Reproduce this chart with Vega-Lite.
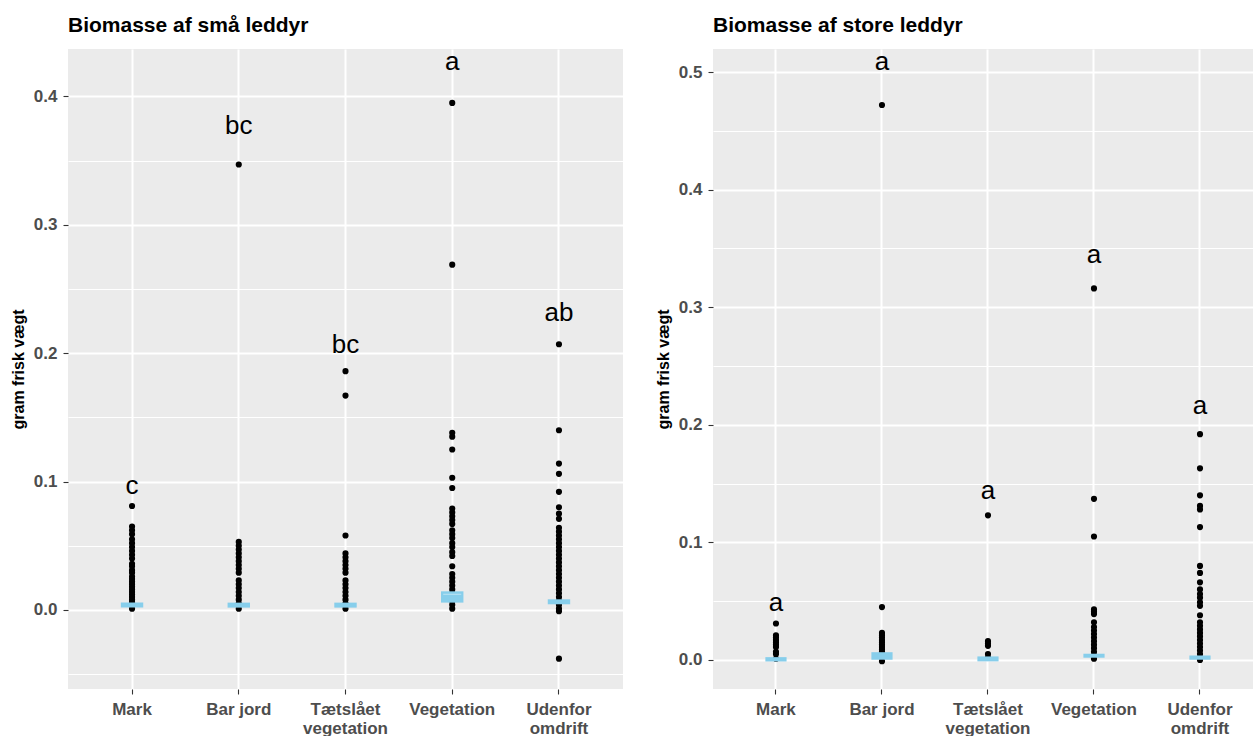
{
  "$schema": "https://vega.github.io/schema/vega-lite/v6.json",
  "background": "white",
  "padding": {"left": 10, "top": 14, "right": 0, "bottom": 0},
  "autosize": {"type": "pad"},
  "spacing": 32,
  "config": {
    "font": "Liberation Sans",
    "view": {"fill": "#EBEBEB", "stroke": null},
    "axis": {
      "labelFont": "Liberation Sans", "labelFontSize": 17, "labelFontWeight": "bold", "labelColor": "#4D4D4D",
      "tickColor": "#333333", "tickSize": 5, "tickWidth": 1.1, "domain": false,
      "gridColor": "white", "titleFont": "Liberation Sans", "titleFontWeight": "bold", "titleColor": "black"
    },
    "title": {"anchor": "start", "frame": "group", "fontSize": 21, "fontWeight": "bold", "color": "black", "font": "Liberation Sans", "offset": 13}
  },
  "datasets": {
    "pts": [
      {"panel": "s", "grp": "Mark", "v": 0.081}, {"panel": "s", "grp": "Mark", "v": 0.065}, {"panel": "s", "grp": "Mark", "v": 0.062}, {"panel": "s", "grp": "Mark", "v": 0.059}, {"panel": "s", "grp": "Mark", "v": 0.055}, {"panel": "s", "grp": "Mark", "v": 0.052}, {"panel": "s", "grp": "Mark", "v": 0.049}, {"panel": "s", "grp": "Mark", "v": 0.046}, {"panel": "s", "grp": "Mark", "v": 0.043}, {"panel": "s", "grp": "Mark", "v": 0.040}, {"panel": "s", "grp": "Mark", "v": 0.036}, {"panel": "s", "grp": "Mark", "v": 0.034}, {"panel": "s", "grp": "Mark", "v": 0.031}, {"panel": "s", "grp": "Mark", "v": 0.029}, {"panel": "s", "grp": "Mark", "v": 0.026}, {"panel": "s", "grp": "Mark", "v": 0.024}, {"panel": "s", "grp": "Mark", "v": 0.022}, {"panel": "s", "grp": "Mark", "v": 0.020}, {"panel": "s", "grp": "Mark", "v": 0.018}, {"panel": "s", "grp": "Mark", "v": 0.016}, {"panel": "s", "grp": "Mark", "v": 0.014}, {"panel": "s", "grp": "Mark", "v": 0.012}, {"panel": "s", "grp": "Mark", "v": 0.010}, {"panel": "s", "grp": "Mark", "v": 0.008}, {"panel": "s", "grp": "Mark", "v": 0.006}, {"panel": "s", "grp": "Mark", "v": 0.004}, {"panel": "s", "grp": "Mark", "v": 0.001},
      {"panel": "s", "grp": "Bar jord", "v": 0.347}, {"panel": "s", "grp": "Bar jord", "v": 0.053}, {"panel": "s", "grp": "Bar jord", "v": 0.050}, {"panel": "s", "grp": "Bar jord", "v": 0.047}, {"panel": "s", "grp": "Bar jord", "v": 0.044}, {"panel": "s", "grp": "Bar jord", "v": 0.041}, {"panel": "s", "grp": "Bar jord", "v": 0.038}, {"panel": "s", "grp": "Bar jord", "v": 0.035}, {"panel": "s", "grp": "Bar jord", "v": 0.032}, {"panel": "s", "grp": "Bar jord", "v": 0.029}, {"panel": "s", "grp": "Bar jord", "v": 0.023}, {"panel": "s", "grp": "Bar jord", "v": 0.020}, {"panel": "s", "grp": "Bar jord", "v": 0.017}, {"panel": "s", "grp": "Bar jord", "v": 0.014}, {"panel": "s", "grp": "Bar jord", "v": 0.011}, {"panel": "s", "grp": "Bar jord", "v": 0.008}, {"panel": "s", "grp": "Bar jord", "v": 0.005}, {"panel": "s", "grp": "Bar jord", "v": 0.001},
      {"panel": "s", "grp": "Tætslået vegetation", "v": 0.186}, {"panel": "s", "grp": "Tætslået vegetation", "v": 0.167}, {"panel": "s", "grp": "Tætslået vegetation", "v": 0.058}, {"panel": "s", "grp": "Tætslået vegetation", "v": 0.044}, {"panel": "s", "grp": "Tætslået vegetation", "v": 0.041}, {"panel": "s", "grp": "Tætslået vegetation", "v": 0.038}, {"panel": "s", "grp": "Tætslået vegetation", "v": 0.035}, {"panel": "s", "grp": "Tætslået vegetation", "v": 0.032}, {"panel": "s", "grp": "Tætslået vegetation", "v": 0.029}, {"panel": "s", "grp": "Tætslået vegetation", "v": 0.023}, {"panel": "s", "grp": "Tætslået vegetation", "v": 0.020}, {"panel": "s", "grp": "Tætslået vegetation", "v": 0.017}, {"panel": "s", "grp": "Tætslået vegetation", "v": 0.014}, {"panel": "s", "grp": "Tætslået vegetation", "v": 0.011}, {"panel": "s", "grp": "Tætslået vegetation", "v": 0.008}, {"panel": "s", "grp": "Tætslået vegetation", "v": 0.005}, {"panel": "s", "grp": "Tætslået vegetation", "v": 0.001},
      {"panel": "s", "grp": "Vegetation", "v": 0.395}, {"panel": "s", "grp": "Vegetation", "v": 0.269}, {"panel": "s", "grp": "Vegetation", "v": 0.138}, {"panel": "s", "grp": "Vegetation", "v": 0.135}, {"panel": "s", "grp": "Vegetation", "v": 0.125}, {"panel": "s", "grp": "Vegetation", "v": 0.103}, {"panel": "s", "grp": "Vegetation", "v": 0.095}, {"panel": "s", "grp": "Vegetation", "v": 0.079}, {"panel": "s", "grp": "Vegetation", "v": 0.076}, {"panel": "s", "grp": "Vegetation", "v": 0.073}, {"panel": "s", "grp": "Vegetation", "v": 0.070}, {"panel": "s", "grp": "Vegetation", "v": 0.067}, {"panel": "s", "grp": "Vegetation", "v": 0.062}, {"panel": "s", "grp": "Vegetation", "v": 0.059}, {"panel": "s", "grp": "Vegetation", "v": 0.056}, {"panel": "s", "grp": "Vegetation", "v": 0.052}, {"panel": "s", "grp": "Vegetation", "v": 0.049}, {"panel": "s", "grp": "Vegetation", "v": 0.045}, {"panel": "s", "grp": "Vegetation", "v": 0.042}, {"panel": "s", "grp": "Vegetation", "v": 0.034}, {"panel": "s", "grp": "Vegetation", "v": 0.028}, {"panel": "s", "grp": "Vegetation", "v": 0.025}, {"panel": "s", "grp": "Vegetation", "v": 0.022}, {"panel": "s", "grp": "Vegetation", "v": 0.019}, {"panel": "s", "grp": "Vegetation", "v": 0.016}, {"panel": "s", "grp": "Vegetation", "v": 0.013}, {"panel": "s", "grp": "Vegetation", "v": 0.010}, {"panel": "s", "grp": "Vegetation", "v": 0.007}, {"panel": "s", "grp": "Vegetation", "v": 0.004}, {"panel": "s", "grp": "Vegetation", "v": 0.001},
      {"panel": "s", "grp": "Udenfor omdrift", "v": 0.207}, {"panel": "s", "grp": "Udenfor omdrift", "v": 0.140}, {"panel": "s", "grp": "Udenfor omdrift", "v": 0.114}, {"panel": "s", "grp": "Udenfor omdrift", "v": 0.106}, {"panel": "s", "grp": "Udenfor omdrift", "v": 0.092}, {"panel": "s", "grp": "Udenfor omdrift", "v": 0.080}, {"panel": "s", "grp": "Udenfor omdrift", "v": 0.075}, {"panel": "s", "grp": "Udenfor omdrift", "v": 0.071}, {"panel": "s", "grp": "Udenfor omdrift", "v": 0.064}, {"panel": "s", "grp": "Udenfor omdrift", "v": 0.061}, {"panel": "s", "grp": "Udenfor omdrift", "v": 0.058}, {"panel": "s", "grp": "Udenfor omdrift", "v": 0.055}, {"panel": "s", "grp": "Udenfor omdrift", "v": 0.052}, {"panel": "s", "grp": "Udenfor omdrift", "v": 0.049}, {"panel": "s", "grp": "Udenfor omdrift", "v": 0.046}, {"panel": "s", "grp": "Udenfor omdrift", "v": 0.043}, {"panel": "s", "grp": "Udenfor omdrift", "v": 0.040}, {"panel": "s", "grp": "Udenfor omdrift", "v": 0.037}, {"panel": "s", "grp": "Udenfor omdrift", "v": 0.034}, {"panel": "s", "grp": "Udenfor omdrift", "v": 0.031}, {"panel": "s", "grp": "Udenfor omdrift", "v": 0.028}, {"panel": "s", "grp": "Udenfor omdrift", "v": 0.025}, {"panel": "s", "grp": "Udenfor omdrift", "v": 0.022}, {"panel": "s", "grp": "Udenfor omdrift", "v": 0.019}, {"panel": "s", "grp": "Udenfor omdrift", "v": 0.016}, {"panel": "s", "grp": "Udenfor omdrift", "v": 0.013}, {"panel": "s", "grp": "Udenfor omdrift", "v": 0.010}, {"panel": "s", "grp": "Udenfor omdrift", "v": 0.007}, {"panel": "s", "grp": "Udenfor omdrift", "v": 0.004}, {"panel": "s", "grp": "Udenfor omdrift", "v": 0.001}, {"panel": "s", "grp": "Udenfor omdrift", "v": -0.001}, {"panel": "s", "grp": "Udenfor omdrift", "v": -0.038},
      {"panel": "l", "grp": "Mark", "v": 0.031}, {"panel": "l", "grp": "Mark", "v": 0.021}, {"panel": "l", "grp": "Mark", "v": 0.019}, {"panel": "l", "grp": "Mark", "v": 0.017}, {"panel": "l", "grp": "Mark", "v": 0.015}, {"panel": "l", "grp": "Mark", "v": 0.013}, {"panel": "l", "grp": "Mark", "v": 0.011}, {"panel": "l", "grp": "Mark", "v": 0.007}, {"panel": "l", "grp": "Mark", "v": 0.005}, {"panel": "l", "grp": "Mark", "v": 0.001},
      {"panel": "l", "grp": "Bar jord", "v": 0.472}, {"panel": "l", "grp": "Bar jord", "v": 0.045}, {"panel": "l", "grp": "Bar jord", "v": 0.023}, {"panel": "l", "grp": "Bar jord", "v": 0.021}, {"panel": "l", "grp": "Bar jord", "v": 0.019}, {"panel": "l", "grp": "Bar jord", "v": 0.017}, {"panel": "l", "grp": "Bar jord", "v": 0.015}, {"panel": "l", "grp": "Bar jord", "v": 0.013}, {"panel": "l", "grp": "Bar jord", "v": 0.011}, {"panel": "l", "grp": "Bar jord", "v": 0.009}, {"panel": "l", "grp": "Bar jord", "v": 0.007}, {"panel": "l", "grp": "Bar jord", "v": 0.005}, {"panel": "l", "grp": "Bar jord", "v": 0.003}, {"panel": "l", "grp": "Bar jord", "v": -0.001},
      {"panel": "l", "grp": "Tætslået vegetation", "v": 0.123}, {"panel": "l", "grp": "Tætslået vegetation", "v": 0.016}, {"panel": "l", "grp": "Tætslået vegetation", "v": 0.014}, {"panel": "l", "grp": "Tætslået vegetation", "v": 0.012}, {"panel": "l", "grp": "Tætslået vegetation", "v": 0.005}, {"panel": "l", "grp": "Tætslået vegetation", "v": 0.002},
      {"panel": "l", "grp": "Vegetation", "v": 0.316}, {"panel": "l", "grp": "Vegetation", "v": 0.137}, {"panel": "l", "grp": "Vegetation", "v": 0.105}, {"panel": "l", "grp": "Vegetation", "v": 0.043}, {"panel": "l", "grp": "Vegetation", "v": 0.041}, {"panel": "l", "grp": "Vegetation", "v": 0.039}, {"panel": "l", "grp": "Vegetation", "v": 0.032}, {"panel": "l", "grp": "Vegetation", "v": 0.028}, {"panel": "l", "grp": "Vegetation", "v": 0.025}, {"panel": "l", "grp": "Vegetation", "v": 0.022}, {"panel": "l", "grp": "Vegetation", "v": 0.019}, {"panel": "l", "grp": "Vegetation", "v": 0.016}, {"panel": "l", "grp": "Vegetation", "v": 0.013}, {"panel": "l", "grp": "Vegetation", "v": 0.010}, {"panel": "l", "grp": "Vegetation", "v": 0.007}, {"panel": "l", "grp": "Vegetation", "v": 0.004}, {"panel": "l", "grp": "Vegetation", "v": 0.001},
      {"panel": "l", "grp": "Udenfor omdrift", "v": 0.192}, {"panel": "l", "grp": "Udenfor omdrift", "v": 0.163}, {"panel": "l", "grp": "Udenfor omdrift", "v": 0.140}, {"panel": "l", "grp": "Udenfor omdrift", "v": 0.131}, {"panel": "l", "grp": "Udenfor omdrift", "v": 0.128}, {"panel": "l", "grp": "Udenfor omdrift", "v": 0.113}, {"panel": "l", "grp": "Udenfor omdrift", "v": 0.080}, {"panel": "l", "grp": "Udenfor omdrift", "v": 0.074}, {"panel": "l", "grp": "Udenfor omdrift", "v": 0.066}, {"panel": "l", "grp": "Udenfor omdrift", "v": 0.060}, {"panel": "l", "grp": "Udenfor omdrift", "v": 0.056}, {"panel": "l", "grp": "Udenfor omdrift", "v": 0.053}, {"panel": "l", "grp": "Udenfor omdrift", "v": 0.049}, {"panel": "l", "grp": "Udenfor omdrift", "v": 0.046}, {"panel": "l", "grp": "Udenfor omdrift", "v": 0.038}, {"panel": "l", "grp": "Udenfor omdrift", "v": 0.032}, {"panel": "l", "grp": "Udenfor omdrift", "v": 0.029}, {"panel": "l", "grp": "Udenfor omdrift", "v": 0.026}, {"panel": "l", "grp": "Udenfor omdrift", "v": 0.023}, {"panel": "l", "grp": "Udenfor omdrift", "v": 0.020}, {"panel": "l", "grp": "Udenfor omdrift", "v": 0.017}, {"panel": "l", "grp": "Udenfor omdrift", "v": 0.014}, {"panel": "l", "grp": "Udenfor omdrift", "v": 0.011}, {"panel": "l", "grp": "Udenfor omdrift", "v": 0.008}, {"panel": "l", "grp": "Udenfor omdrift", "v": 0.005}, {"panel": "l", "grp": "Udenfor omdrift", "v": 0.002}, {"panel": "l", "grp": "Udenfor omdrift", "v": 0.000}
    ],
    "bars": [
      {"panel": "s", "grp": "Mark", "lo": 0.0018, "hi": 0.0057},
      {"panel": "s", "grp": "Bar jord", "lo": 0.0018, "hi": 0.0057},
      {"panel": "s", "grp": "Tætslået vegetation", "lo": 0.0018, "hi": 0.0057},
      {"panel": "s", "grp": "Vegetation", "lo": 0.0057, "hi": 0.0145, "mid": 0.0122},
      {"panel": "s", "grp": "Udenfor omdrift", "lo": 0.0044, "hi": 0.0083},
      {"panel": "l", "grp": "Mark", "lo": -0.0013, "hi": 0.0024},
      {"panel": "l", "grp": "Bar jord", "lo": 0.0002, "hi": 0.0066},
      {"panel": "l", "grp": "Tætslået vegetation", "lo": -0.0012, "hi": 0.003},
      {"panel": "l", "grp": "Vegetation", "lo": 0.0019, "hi": 0.0053},
      {"panel": "l", "grp": "Udenfor omdrift", "lo": 0.0002, "hi": 0.0038}
    ],
    "letters": [
      {"panel": "s", "grp": "Mark", "y": 0.0904, "lab": "c"},
      {"panel": "s", "grp": "Bar jord", "y": 0.371, "lab": "bc"},
      {"panel": "s", "grp": "Tætslået vegetation", "y": 0.2005, "lab": "bc"},
      {"panel": "s", "grp": "Vegetation", "y": 0.421, "lab": "a"},
      {"panel": "s", "grp": "Udenfor omdrift", "y": 0.2253, "lab": "ab"},
      {"panel": "l", "grp": "Mark", "y": 0.042, "lab": "a"},
      {"panel": "l", "grp": "Bar jord", "y": 0.5017, "lab": "a"},
      {"panel": "l", "grp": "Tætslået vegetation", "y": 0.137, "lab": "a"},
      {"panel": "l", "grp": "Vegetation", "y": 0.338, "lab": "a"},
      {"panel": "l", "grp": "Udenfor omdrift", "y": 0.209, "lab": "a"}
    ]
  },
  "hconcat": [
    {
      "width": 555, "height": 640,
      "title": {"text": "Biomasse af små leddyr"},
      "encoding": {
        "x": {"field": "grp", "type": "nominal", "sort": ["Mark", "Bar jord", "Tætslået vegetation", "Vegetation", "Udenfor omdrift"],
          "scale": {"type": "band", "paddingInner": 0, "paddingOuter": 0.1},
          "axis": {"title": null, "labelAngle": 0, "bandPosition": 0.5, "grid": true, "ticks": true, "gridWidth": 2, "labelPadding": 7, "labelLineHeight": 19,
            "labelExpr": "datum.label == 'Bar jord' ? datum.label : split(datum.label, ' ')"}}
      },
      "layer": [
        {
          "data": {"name": "pts"}, "transform": [{"filter": "datum.panel == 's'"}],
          "mark": {"type": "circle", "size": 38, "color": "black", "opacity": 1},
          "encoding": {
            "y": {"field": "v", "type": "quantitative", "scale": {"domain": [-0.0616, 0.437], "nice": false, "zero": false},
              "axis": {"values": [-0.05, 0, 0.05, 0.1, 0.15, 0.2, 0.25, 0.3, 0.35, 0.4],
                "labelExpr": "round(datum.value*100) % 10 == 0 ? format(datum.value, '.1f') : ''",
                "tickOpacity": {"condition": {"test": "round(datum.value*100) % 10 != 0", "value": 0}, "value": 1},
                "gridWidth": {"condition": {"test": "round(datum.value*100) % 10 != 0", "value": 1}, "value": 2},
                "title": "gram frisk vægt", "titleFontSize": 16, "titlePadding": 7, "labelPadding": 6}}
          }
        },
        {
          "data": {"name": "bars"}, "transform": [{"filter": "datum.panel == 's'"}],
          "mark": {"type": "bar", "color": "#87CEEB", "width": {"band": 0.21}},
          "encoding": {"y": {"field": "lo", "type": "quantitative"}, "y2": {"field": "hi"}}
        },
        {
          "data": {"name": "bars"}, "transform": [{"filter": "datum.panel == 's' && isValid(datum.mid)"}],
          "mark": {"type": "tick", "color": "#D4EEF8", "thickness": 1, "size": 18},
          "encoding": {"y": {"field": "mid", "type": "quantitative"}}
        },
        {
          "data": {"name": "letters"}, "transform": [{"filter": "datum.panel == 's'"}],
          "mark": {"type": "text", "fontSize": 26, "font": "Liberation Sans", "color": "black", "baseline": "alphabetic", "align": "center"},
          "encoding": {"y": {"field": "y", "type": "quantitative"}, "text": {"field": "lab"}}
        }
      ]
    },
    {
      "width": 540, "height": 640,
      "title": {"text": "Biomasse af store leddyr"},
      "encoding": {
        "x": {"field": "grp", "type": "nominal", "sort": ["Mark", "Bar jord", "Tætslået vegetation", "Vegetation", "Udenfor omdrift"],
          "scale": {"type": "band", "paddingInner": 0, "paddingOuter": 0.047, "align": 1},
          "axis": {"title": null, "labelAngle": 0, "bandPosition": 0.5, "grid": true, "ticks": true, "gridWidth": 2, "labelPadding": 7, "labelLineHeight": 19,
            "labelExpr": "datum.label == 'Bar jord' ? datum.label : split(datum.label, ' ')"}}
      },
      "layer": [
        {
          "data": {"name": "pts"}, "transform": [{"filter": "datum.panel == 'l'"}],
          "mark": {"type": "circle", "size": 38, "color": "black", "opacity": 1},
          "encoding": {
            "y": {"field": "v", "type": "quantitative", "scale": {"domain": [-0.0247, 0.5196], "nice": false, "zero": false},
              "axis": {"values": [0, 0.05, 0.1, 0.15, 0.2, 0.25, 0.3, 0.35, 0.4, 0.45, 0.5],
                "labelExpr": "round(datum.value*100) % 10 == 0 ? format(datum.value, '.1f') : ''",
                "tickOpacity": {"condition": {"test": "round(datum.value*100) % 10 != 0", "value": 0}, "value": 1},
                "gridWidth": {"condition": {"test": "round(datum.value*100) % 10 != 0", "value": 1}, "value": 2},
                "title": "gram frisk vægt", "titleFontSize": 16, "titlePadding": 7, "labelPadding": 6}}
          }
        },
        {
          "data": {"name": "bars"}, "transform": [{"filter": "datum.panel == 'l'"}],
          "mark": {"type": "bar", "color": "#87CEEB", "width": {"band": 0.2}},
          "encoding": {"y": {"field": "lo", "type": "quantitative"}, "y2": {"field": "hi"}}
        },
        {
          "data": {"name": "letters"}, "transform": [{"filter": "datum.panel == 'l'"}],
          "mark": {"type": "text", "fontSize": 26, "font": "Liberation Sans", "color": "black", "baseline": "alphabetic", "align": "center"},
          "encoding": {"y": {"field": "y", "type": "quantitative"}, "text": {"field": "lab"}}
        }
      ]
    }
  ]
}
